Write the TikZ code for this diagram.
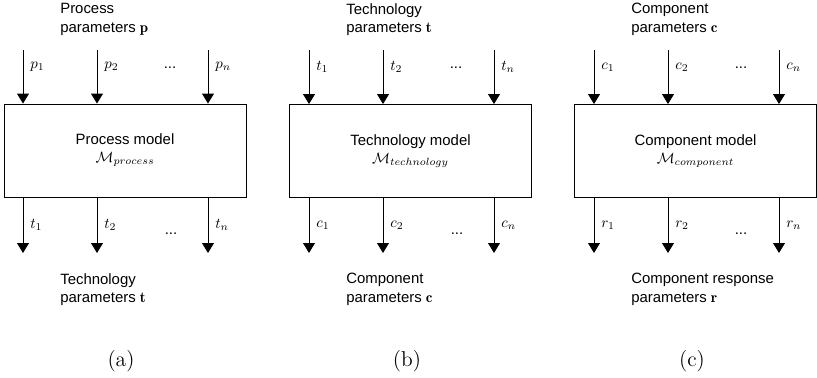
\documentclass[tikz,border=0pt]{standalone}
\usepackage{amsfonts}
\usepackage{fontspec}
\newfontfamily\helv{Liberation Sans}
\usetikzlibrary{arrows.meta}

\begin{document}
\begin{tikzpicture}[x=0.67pt,y=-0.67pt]
	\tikzstyle{every node}+=[inner sep=0pt]
	\tikzstyle{model}=[draw=black, line width=0.6pt, minimum width=162.1pt, minimum height=62.3pt, align=center, font=\helv]
	\tikzstyle{flow}=[draw=black, line width=0.6pt, -{Triangle[width=8pt,length=6.7pt]}]
	\tikzstyle{params}=[anchor=north west, align=left, font=\helv\fontsize{10}{12.6}\selectfont]
	\tikzstyle{dots}=[anchor=base, font=\helv]
	\tikzstyle{sub}=[anchor=base, font=\Large]
	\useasboundingbox (0,0) rectangle (817,378);
	% (a) process model
	\node [model] (procmodel) at (125,150.5) {Process model\\$\mathcal{M}_{process}$};
	\coordinate (pin1) at (23,50);
	\coordinate (pin2) at (97,50);
	\coordinate (pinn) at (208,50);
	\draw [flow] (pin1) -- (pin1 |- procmodel.north);
	\draw [flow] (pin2) -- (pin2 |- procmodel.north);
	\draw [flow] (pinn) -- (pinn |- procmodel.north);
	\node [anchor=west] (lp1) at (30,67) {$p_1$};
	\node [anchor=west] (lp2) at (104,67) {$p_2$};
	\node [dots] (pdots) at (170,69) {...};
	\node [anchor=west] (lpn) at (215,67) {$p_n$};
	\coordinate (tout1) at (23,253);
	\coordinate (tout2) at (97,253);
	\coordinate (toutn) at (208,253);
	\draw [flow] (tout1 |- procmodel.south) -- (tout1);
	\draw [flow] (tout2 |- procmodel.south) -- (tout2);
	\draw [flow] (toutn |- procmodel.south) -- (toutn);
	\node [anchor=west] (lt1) at (30,225) {$t_1$};
	\node [anchor=west] (lt2) at (104,225) {$t_2$};
	\node [dots] (tdots) at (171,234) {...};
	\node [anchor=west] (ltn) at (215,225) {$t_n$};
	\node [params] (ptext) at (60,3) {Process\\parameters $\mathbf{p}$};
	\node [params] (ttext) at (60,273) {Technology\\parameters $\mathbf{t}$};
	\node [sub] (capa) at (121,366) {(a)};
	% (b) technology model
	\node [model] (techmodel) at (410.5,151) {Technology model\\$\mathcal{M}_{technology}$};
	\coordinate (tin1) at (309,50);
	\coordinate (tin2) at (383,50);
	\coordinate (tinn) at (494,50);
	\draw [flow] (tin1) -- (tin1 |- techmodel.north);
	\draw [flow] (tin2) -- (tin2 |- techmodel.north);
	\draw [flow] (tinn) -- (tinn |- techmodel.north);
	\node [anchor=west] (ltin1) at (316,67) {$t_1$};
	\node [anchor=west] (ltin2) at (390,67) {$t_2$};
	\node [dots] (tindots) at (456,69) {...};
	\node [anchor=west] (ltinn) at (501,67) {$t_n$};
	\coordinate (cout1) at (309,253);
	\coordinate (cout2) at (383,253);
	\coordinate (coutn) at (494,253);
	\draw [flow] (cout1 |- techmodel.south) -- (cout1);
	\draw [flow] (cout2 |- techmodel.south) -- (cout2);
	\draw [flow] (coutn |- techmodel.south) -- (coutn);
	\node [anchor=west] (lc1) at (316,225) {$c_1$};
	\node [anchor=west] (lc2) at (390,225) {$c_2$};
	\node [dots] (cdots) at (457,234) {...};
	\node [anchor=west] (lcn) at (501,225) {$c_n$};
	\node [params] (tintext) at (346,3) {Technology\\parameters $\mathbf{t}$};
	\node [params] (ctext) at (346,273) {Component\\parameters $\mathbf{c}$};
	\node [sub] (capb) at (407,366) {(b)};
	% (c) component model
	\node [model] (compmodel) at (695.5,151) {Component model\\$\mathcal{M}_{component}$};
	\coordinate (cin1) at (594,50);
	\coordinate (cin2) at (668,50);
	\coordinate (cinn) at (779,50);
	\draw [flow] (cin1) -- (cin1 |- compmodel.north);
	\draw [flow] (cin2) -- (cin2 |- compmodel.north);
	\draw [flow] (cinn) -- (cinn |- compmodel.north);
	\node [anchor=west] (lcin1) at (601,67) {$c_1$};
	\node [anchor=west] (lcin2) at (675,67) {$c_2$};
	\node [dots] (cindots) at (741,69) {...};
	\node [anchor=west] (lcinn) at (786,67) {$c_n$};
	\coordinate (rout1) at (594,253);
	\coordinate (rout2) at (668,253);
	\coordinate (routn) at (779,253);
	\draw [flow] (rout1 |- compmodel.south) -- (rout1);
	\draw [flow] (rout2 |- compmodel.south) -- (rout2);
	\draw [flow] (routn |- compmodel.south) -- (routn);
	\node [anchor=west] (lr1) at (601,225) {$r_1$};
	\node [anchor=west] (lr2) at (675,225) {$r_2$};
	\node [dots] (rdots) at (741,234) {...};
	\node [anchor=west] (lrn) at (786,225) {$r_n$};
	\node [params] (cintext) at (631,3) {Component\\parameters $\mathbf{c}$};
	\node [params] (rtext) at (631,273) {Component response\\parameters $\mathbf{r}$};
	\node [sub] (capc) at (692,366) {(c)};
\end{tikzpicture}
\end{document}
